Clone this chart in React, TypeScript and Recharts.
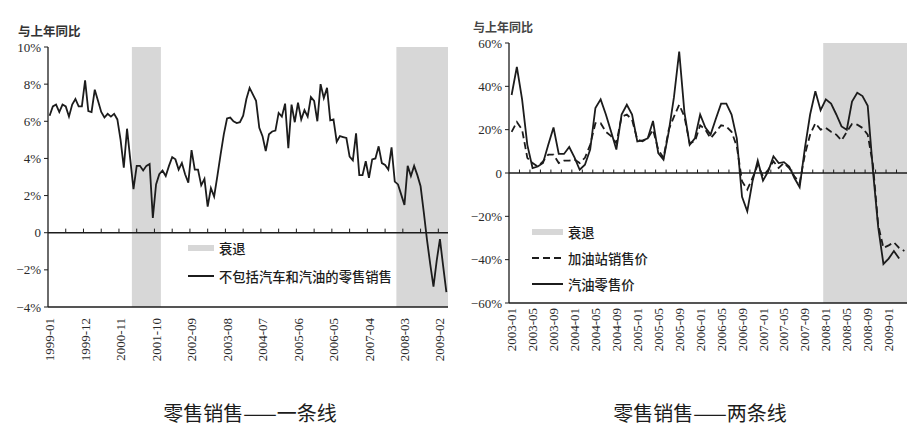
import React from 'react';
import { LineChart, Line, XAxis, YAxis, ReferenceArea, ReferenceLine, Legend } from 'recharts';

// ---------- helpers ----------
function monthRange(startYear: number, startMonth: number, count: number): string[] {
  const out: string[] = [];
  for (let k = 0; k < count; k++) {
    const m0 = startMonth - 1 + k;
    const y = startYear + Math.floor(m0 / 12);
    const m = (m0 % 12) + 1;
    out.push(`${y}-${m < 10 ? '0' : ''}${m}`);
  }
  return out;
}

// ---------- left chart data ----------
const retailMonths = monthRange(1999, 1, 124);
const retailExAutoGas = [
  6.3, 6.8, 6.9, 6.5, 6.9, 6.8, 6.25, 6.9, 7.2, 6.8,
  6.8, 8.2, 6.55, 6.5, 7.7, 7.1, 6.5, 6.2, 6.4, 6.25,
  6.4, 6.1, 5.0, 3.5, 5.6, 3.95, 2.35, 3.6, 3.6, 3.35,
  3.6, 3.7, 0.8, 2.6, 3.15, 3.35, 3.05, 3.6, 4.07, 3.95,
  3.4, 3.75, 3.15, 2.7, 4.45, 3.4, 3.4, 2.55, 2.9, 1.4,
  2.4, 1.95, 3.05, 4.2, 5.3, 6.15, 6.2, 6.0, 5.9, 5.95,
  6.3, 7.2, 7.8, 7.45, 7.1, 5.65, 5.2, 4.4, 5.3, 5.45,
  5.5, 6.45, 6.25, 6.95, 4.55, 6.9, 5.95, 7.0, 6.1, 6.6,
  6.25, 7.3, 7.1, 6.0, 8.0, 7.25, 7.8, 6.05, 6.1, 4.9,
  5.2, 5.15, 5.1, 4.1, 3.9, 5.35, 3.1, 3.1, 3.85, 2.95,
  3.95, 4.0, 4.65, 3.75, 3.65, 3.4, 4.6, 2.75, 2.6, 2.05,
  1.5, 3.6, 3.05, 3.6, 3.1, 2.5, 1.1, -0.4, -1.7, -2.9,
  -1.5, -0.35, -1.8, -3.2,
];
const retailTickLabels = [
  '1999-01', '1999-12', '2000-11', '2001-10', '2002-09', '2003-08',
  '2004-07', '2005-06', '2006-05', '2007-04', '2008-03', '2009-02',
];
const retailRecessions: [string, string][] = [['2001-03', '2001-11'], ['2008-01', '2009-04']];
const retailYTicks = [-4, -2, 0, 2, 4, 6, 8, 10];
const retailZeroTickStep = 5.5;
const retailSeriesName = '不包括汽车和汽油的零售销售';

// ---------- right chart data ----------
const gasMonths = monthRange(2003, 1, 76);
const gasStationSales = [
  19, 23.5, 20, 7, 4.6, 3, 5.4, 8.5, 8.5, 4.6,
  5.7, 5.7, 6.2, 4.6, 7, 13, 23, 23, 19, 17,
  13.8, 26, 27, 24.6, 15.4, 14.6, 16, 20, 10.8, 7,
  20, 26, 31.5, 26, 13.8, 14.6, 22, 20, 16, 19,
  22, 21.5, 19, 12.3, -3.8, -7.7, -2.3, 3.8, -1.5, 1.5,
  5.4, 2.3, 4.6, 2.3, -1.5, -4.6, 8.5, 17.7, 23, 20,
  20.8, 19, 17.7, 15, 19, 22.6, 22.3, 20.8, 17.7, 3.8,
  -24, -34.6, -33.4, -32, -34.6, -36,
];
const gasRetailPrice: (number | null)[] = [
  36, 49, 34, 13, 2.3, 3, 4.6, 13, 21, 8.8,
  8.8, 12, 7.2, 1.5, 3.8, 10.8, 30, 34, 27, 19,
  10.8, 27, 31.5, 27, 14.6, 15, 16, 24, 9.2, 6.2,
  19, 35, 56, 28, 13, 16, 27, 21, 17.7, 25,
  32, 32, 27, 16, -11, -17.7, -3.8, 5.7, -3.5, 0.8,
  7.7, 4.6, 5, 3, -2.3, -6.6, 11.5, 27, 37.7, 29,
  34, 32, 27, 21.5, 20, 33, 37, 35.5, 31, 1,
  -25, -42, -39.5, -36, -39.5, null,
];
const gasTickLabels = [
  '2003-01', '2003-05', '2003-09', '2004-01', '2004-05', '2004-09', '2005-01',
  '2005-05', '2005-09', '2006-01', '2006-05', '2006-09', '2007-01', '2007-05',
  '2007-09', '2008-01', '2008-05', '2008-09', '2009-01',
];
const gasRecessions: [string, string][] = [['2008-01', '2009-04']];
const gasYTicks = [-60, -40, -20, 0, 20, 40, 60];
const gasZeroTickStep = 2;
const gasSalesName = '加油站销售价';
const gasRetailName = '汽油零售价';

const recessionName = '衰退';
const yAxisTitle = '与上年同比';
const leftTitle = '零售销售——一条线';
const rightTitle = '零售销售——两条线';

// ---------- styles ----------
const INK = '#1c1c1c';
const SHADE = '#d7d7d7';
const SERIF = '"Liberation Serif", "DejaVu Serif", serif';
const CJK = '"Noto Sans CJK SC", "Noto Sans", sans-serif';

const fmtPct = (v: number) => (v === 0 ? '0' : v < 0 ? `\u2212${Math.abs(v)}%` : `${v}%`);

const retailRows = retailMonths.map((m, i) => ({ i, month: m, v: retailExAutoGas[i] }));
const gasRows = gasMonths.map((m, i) => ({ i, month: m, sales: gasStationSales[i], retail: gasRetailPrice[i] }));

const zeroTicks = (n: number, step: number) => {
  const out: number[] = [];
  for (let t = -0.5 + step; t < n - 0.5; t += step) out.push(t);
  return out;
};

const makeRotTick = (months: string[], fontSize: number) => (props: any) => {
  const { x, y, payload } = props;
  return (
    <text
      x={x}
      y={y}
      transform={`rotate(-90 ${x} ${y})`}
      textAnchor="end"
      dy="0.35em"
      fontSize={fontSize}
      fontFamily={SERIF}
      fill="#2a2a2a"
    >
      {months[payload.value]}
    </text>
  );
};

type LegendItem = { kind: 'area' | 'line'; label: string; dash?: string };

const LegendBox = ({ items, rowH, swatchW }: { items: LegendItem[]; rowH: number; swatchW: number }) => (
  <div style={{ fontFamily: CJK, fontSize: 13.3, color: INK, fontWeight: 500 }}>
    {items.map((it) => (
      <div key={it.label} style={{ display: 'flex', alignItems: 'center', height: rowH, whiteSpace: 'nowrap' }}>
        <svg width={swatchW} height={10} style={{ marginRight: 5, flex: 'none' }}>
          {it.kind === 'area' ? (
            <rect x={0} y={2} width={swatchW} height={6} fill={SHADE} />
          ) : (
            <line x1={0} y1={5} x2={swatchW} y2={5} stroke={INK} strokeWidth={2} strokeDasharray={it.dash} />
          )}
        </svg>
        <span>{it.label}</span>
      </div>
    ))}
  </div>
);

const axisStroke = { stroke: INK, strokeWidth: 1.3 };

function LeftChart() {
  const n = retailMonths.length;
  const ticks = retailTickLabels.map((l) => retailMonths.indexOf(l));
  const idx = (m: string) => retailMonths.indexOf(m);
  return (
    <LineChart width={460} height={380} data={retailRows} margin={{ top: 47, right: 12, bottom: 0, left: 0 }}>
      {retailRecessions.map(([a, b]) => (
        <ReferenceArea key={a} x1={idx(a) - 0.5} x2={idx(b) + 0.5} y1={-4} y2={10} fill={SHADE} fillOpacity={1} stroke="none" />
      ))}
      <XAxis
        dataKey="i"
        type="number"
        domain={[-0.5, n - 0.5]}
        ticks={ticks}
        interval={0}
        height={73}
        tickLine={false}
        tickSize={0}
        tickMargin={11}
        axisLine={axisStroke}
        tick={makeRotTick(retailMonths, 13)}
        allowDataOverflow
      />
      <XAxis xAxisId="top" orientation="top" type="number" domain={[-0.5, n - 0.5]} height={0} tick={false} tickLine={false} axisLine={axisStroke} />
      <YAxis
        domain={[-4, 10]}
        ticks={retailYTicks}
        width={48}
        tickSize={4}
        tickMargin={3}
        tickLine={{ stroke: INK }}
        axisLine={axisStroke}
        tickFormatter={fmtPct}
        tick={{ fontSize: 13, fontFamily: SERIF, fill: '#2a2a2a' }}
        interval={0}
      />
      <YAxis yAxisId="right" orientation="right" domain={[-4, 10]} width={0} tick={false} tickLine={false} axisLine={axisStroke} />
      <ReferenceLine y={0} stroke={INK} strokeWidth={1.4} />
      {zeroTicks(n, retailZeroTickStep).map((t) => (
        <ReferenceLine key={t} segment={[{ x: t, y: 0 }, { x: t, y: 0.22 }]} stroke={INK} strokeWidth={1} />
      ))}
      <Line type="linear" dataKey="v" name={retailSeriesName} stroke={INK} strokeWidth={1.8} dot={false} isAnimationActive={false} />
      <Legend
        layout="vertical"
        align="center"
        verticalAlign="middle"
        wrapperStyle={{ left: 188, top: 234, width: 260 }}
        content={() => (
          <LegendBox
            rowH={28}
            swatchW={26}
            items={[
              { kind: 'area', label: recessionName },
              { kind: 'line', label: retailSeriesName },
            ]}
          />
        )}
      />
    </LineChart>
  );
}

function RightChart() {
  const n = gasMonths.length;
  const ticks = gasTickLabels.map((l) => gasMonths.indexOf(l));
  const idx = (m: string) => gasMonths.indexOf(m);
  return (
    <LineChart width={455} height={380} data={gasRows} margin={{ top: 43, right: 8, bottom: 0, left: 0 }}>
      {gasRecessions.map(([a, b]) => (
        <ReferenceArea key={a} x1={idx(a) - 0.5} x2={idx(b) + 0.5} y1={-60} y2={60} fill={SHADE} fillOpacity={1} stroke="none" />
      ))}
      <XAxis
        dataKey="i"
        type="number"
        domain={[-0.5, n - 0.5]}
        ticks={ticks}
        interval={0}
        height={77}
        tickLine={false}
        tickSize={0}
        tickMargin={5}
        axisLine={axisStroke}
        tick={makeRotTick(gasMonths, 13)}
        allowDataOverflow
      />
      <XAxis xAxisId="top" orientation="top" type="number" domain={[-0.5, n - 0.5]} height={0} tick={false} tickLine={false} axisLine={axisStroke} />
      <YAxis
        domain={[-60, 60]}
        ticks={gasYTicks}
        width={49}
        tickSize={4}
        tickMargin={3}
        tickLine={{ stroke: INK }}
        axisLine={axisStroke}
        tickFormatter={fmtPct}
        tick={{ fontSize: 13, fontFamily: SERIF, fill: '#2a2a2a' }}
        interval={0}
      />
      <YAxis yAxisId="right" orientation="right" domain={[-60, 60]} width={0} tick={false} tickLine={false} axisLine={axisStroke} />
      <ReferenceLine y={0} stroke={INK} strokeWidth={1.4} />
      {zeroTicks(n, gasZeroTickStep).map((t) => (
        <ReferenceLine key={t} segment={[{ x: t, y: 0 }, { x: t, y: 1.6 }]} stroke={INK} strokeWidth={1} />
      ))}
      <Line type="linear" dataKey="sales" name={gasSalesName} stroke={INK} strokeWidth={1.8} strokeDasharray="7 4" dot={false} isAnimationActive={false} />
      <Line type="linear" dataKey="retail" name={gasRetailName} stroke={INK} strokeWidth={1.8} dot={false} isAnimationActive={false} />
      <Legend
        layout="vertical"
        align="center"
        verticalAlign="middle"
        wrapperStyle={{ left: 72, top: 219, width: 200 }}
        content={() => (
          <LegendBox
            rowH={26}
            swatchW={31}
            items={[
              { kind: 'area', label: recessionName },
              { kind: 'line', label: gasSalesName, dash: '7 4' },
              { kind: 'line', label: gasRetailName },
            ]}
          />
        )}
      />
    </LineChart>
  );
}

export default function App() {
  return (
    <div style={{ position: 'absolute', left: 0, top: 0, width: 915, height: 442, background: '#fff', overflow: 'hidden' }}>
      <div style={{ position: 'absolute', left: 0, top: 0 }}>
        <LeftChart />
      </div>
      <div style={{ position: 'absolute', left: 460, top: 0 }}>
        <RightChart />
      </div>
      <div style={{ position: 'absolute', left: 18, top: 24, fontFamily: CJK, fontSize: 12.5, fontWeight: 600, color: '#333', lineHeight: '13px' }}>
        {yAxisTitle}
      </div>
      <div style={{ position: 'absolute', left: 473, top: 20, fontFamily: CJK, fontSize: 12, fontWeight: 600, color: '#444', lineHeight: '13px' }}>
        {yAxisTitle}
      </div>
      <div style={{ position: 'absolute', left: 100, top: 402, width: 300, textAlign: 'center', fontFamily: CJK, fontSize: 20, color: INK, lineHeight: '22px' }}>
        {leftTitle}
      </div>
      <div style={{ position: 'absolute', left: 550, top: 402, width: 300, textAlign: 'center', fontFamily: CJK, fontSize: 20, color: INK, lineHeight: '22px' }}>
        {rightTitle}
      </div>
    </div>
  );
}
